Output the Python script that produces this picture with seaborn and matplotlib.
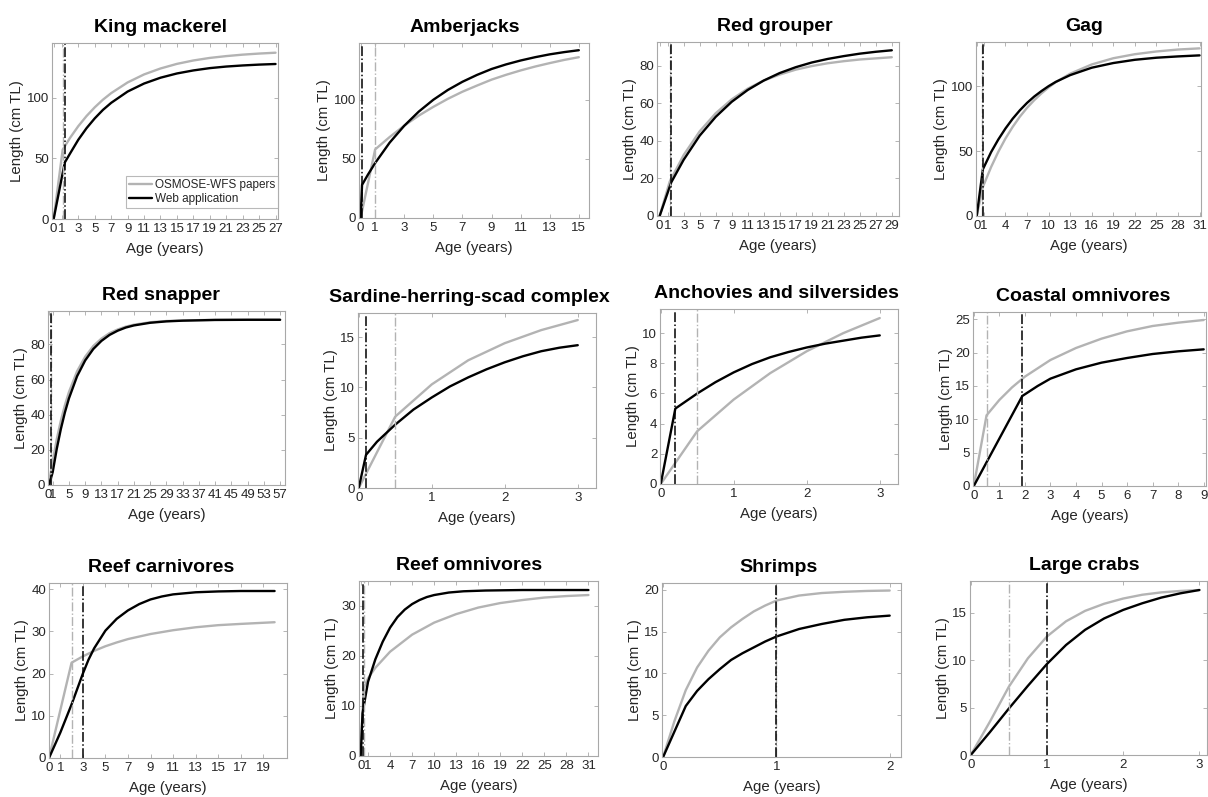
import matplotlib
matplotlib.use("Agg")
import matplotlib.pyplot as plt
import pandas as pd
import seaborn as sns

# ---------------- growth curves (age in years, length in cm TL) ----------------
# King mackerel
km_age_paper = [0, 1.1, 2, 3, 4, 5, 6, 7, 9, 11, 13, 15, 17, 19, 21, 23, 25, 27]
km_len_paper = [0, 57.1, 66.9, 76.5, 84.8, 92.0, 98.3, 103.7, 112.5, 119.1, 124.0, 127.8, 130.6, 132.7, 134.2, 135.4, 136.3, 137.0]
km_age_web = [0, 1.35, 2, 3, 4, 5, 6, 7, 9, 11, 13, 15, 17, 19, 21, 23, 25, 27]
km_len_web = [0, 46.5, 54.0, 65.3, 74.8, 82.9, 89.9, 95.7, 105.0, 111.6, 116.4, 119.9, 122.4, 124.3, 125.6, 126.5, 127.2, 127.7]
km_thr = (1.1, 1.35)

# Amberjacks
amb_age_paper = [0, 1, 2, 3, 4, 5, 6, 7, 8, 9, 10, 11, 12, 13, 14, 15]
amb_len_paper = [0, 58.0, 68.5, 78.1, 86.6, 94.0, 100.8, 106.8, 112.0, 117.0, 121.1, 124.8, 128.1, 131.0, 133.7, 136.0]
amb_age_web = [0, 0.1, 0.5, 1, 2, 3, 4, 5, 6, 7, 8, 9, 10, 11, 12, 13, 14, 15]
amb_len_web = [0, 28.0, 36.6, 46.5, 63.8, 78.0, 90.0, 100.0, 108.3, 115.2, 121.0, 126.0, 129.9, 133.2, 136.0, 138.4, 140.3, 141.9]
amb_thr = (1.0, 0.1)

# Red grouper
rg_age_paper = [0, 1.25, 3, 5, 7, 9, 11, 13, 15, 17, 19, 21, 23, 25, 27, 29]
rg_len_paper = [0, 18.2, 32.4, 45.0, 54.6, 62.0, 67.7, 72.0, 75.2, 77.8, 79.7, 81.2, 82.3, 83.2, 83.8, 84.4]
rg_age_web = [0, 1.45, 3, 5, 7, 9, 11, 13, 15, 17, 19, 21, 23, 25, 27, 29]
rg_len_web = [0, 17.9, 29.9, 42.7, 52.7, 60.7, 67.0, 72.0, 76.0, 79.1, 81.6, 83.5, 85.0, 86.3, 87.3, 88.1]
rg_thr = (1.25, 1.45)

# Gag
gag_age_paper = [0, 0.85, 2, 3, 4, 5, 6, 7, 8, 9, 10, 11, 13, 16, 19, 22, 25, 28, 31]
gag_len_paper = [0, 22.3, 37.7, 49.4, 59.7, 68.6, 76.5, 83.3, 89.2, 94.4, 99.0, 103.1, 109.6, 116.7, 121.5, 124.6, 126.7, 128.2, 129.1]
gag_age_web = [0, 0.85, 2, 3, 4, 5, 6, 7, 8, 9, 10, 11, 13, 16, 19, 22, 25, 28, 31]
gag_len_web = [0, 35.9, 49.2, 58.9, 67.4, 74.9, 81.4, 87.1, 92.0, 96.2, 100.0, 103.3, 108.5, 114.2, 117.8, 120.3, 121.9, 122.9, 123.7]
gag_thr = (0.8, 0.85)

# Red snapper
rs_age_paper = [0, 0.5, 1, 2, 3, 4, 5, 7, 9, 11, 13, 15, 17, 19, 21, 25, 29, 33, 41, 49, 57]
rs_len_paper = [0, 6.7, 13.6, 26.1, 36.6, 45.4, 52.9, 64.7, 73.0, 79.1, 83.3, 86.4, 88.5, 90.1, 91.2, 92.6, 93.3, 93.6, 94.0, 94.0, 94.0]
rs_age_web = [0, 0.6, 1, 2, 3, 4, 5, 7, 9, 11, 13, 15, 17, 19, 21, 25, 29, 33, 41, 49, 57]
rs_len_web = [0, 4.0, 7.4, 20.6, 31.8, 41.3, 49.3, 61.9, 70.9, 77.4, 82.0, 85.4, 87.8, 89.6, 90.8, 92.3, 93.1, 93.5, 93.9, 94.0, 94.0]
rs_thr = (0.5, 0.6)

# Sardine-herring-scad complex
sar_age_paper = [0, 0.5, 1, 1.5, 2, 2.5, 3]
sar_len_paper = [0, 7.1, 10.3, 12.7, 14.4, 15.7, 16.7]
sar_age_web = [0, 0.1, 0.25, 0.5, 0.75, 1, 1.25, 1.5, 1.75, 2, 2.25, 2.5, 2.75, 3]
sar_len_web = [0, 3.3, 4.6, 6.3, 7.8, 9.0, 10.1, 11.0, 11.8, 12.5, 13.1, 13.6, 13.95, 14.2]
sar_thr = (0.5, 0.1)

# Anchovies and silversides
anc_age_paper = [0, 0.5, 1, 1.5, 2, 2.5, 3]
anc_len_paper = [0, 3.5, 5.6, 7.35, 8.8, 10.0, 11.0]
anc_age_web = [0, 0.2, 0.5, 0.75, 1, 1.25, 1.5, 1.75, 2, 2.25, 2.5, 2.75, 3]
anc_len_web = [0, 5.0, 6.0, 6.75, 7.4, 7.95, 8.4, 8.75, 9.05, 9.3, 9.5, 9.7, 9.85]
anc_thr = (0.5, 0.2)

# Coastal omnivores
co_age_paper = [0, 0.5, 1, 1.5, 2, 3, 4, 5, 6, 7, 8, 9]
co_len_paper = [0, 10.6, 12.9, 14.8, 16.4, 18.9, 20.7, 22.1, 23.2, 24.0, 24.5, 24.9]
co_age_web = [0, 1.9, 2.5, 3, 4, 5, 6, 7, 8, 9]
co_len_web = [0, 13.5, 15.0, 16.1, 17.5, 18.5, 19.2, 19.8, 20.2, 20.5]
co_thr = (0.5, 1.9)

# Reef carnivores
rc_age_paper = [0, 2, 3, 4, 5, 6, 7, 9, 11, 13, 15, 17, 20]
rc_len_paper = [0, 22.6, 24.1, 25.4, 26.5, 27.4, 28.2, 29.4, 30.3, 31.0, 31.5, 31.8, 32.2]
rc_age_web = [0, 1, 2, 3, 3.5, 4, 5, 6, 7, 8, 9, 10, 11, 13, 15, 17, 20]
rc_len_web = [0, 6.0, 12.7, 20.0, 23.3, 26.0, 30.2, 33.0, 35.0, 36.5, 37.6, 38.3, 38.8, 39.3, 39.5, 39.6, 39.6]
rc_thr = (2.0, 3.0)

# Reef omnivores
ro_age_paper = [0, 0.4, 1, 2, 4, 7, 10, 13, 16, 19, 22, 25, 28, 31]
ro_len_paper = [0, 13.5, 15.5, 17.6, 20.8, 24.2, 26.6, 28.3, 29.6, 30.5, 31.1, 31.6, 31.9, 32.1]
ro_age_web = [0, 0.25, 1, 2, 3, 4, 5, 6, 7, 8, 9, 10, 12, 14, 17, 22, 31]
ro_len_web = [0, 8.5, 14.8, 19.3, 22.8, 25.6, 27.7, 29.2, 30.3, 31.1, 31.7, 32.1, 32.6, 32.85, 33.0, 33.1, 33.1]
ro_thr = (0.4, 0.25)

# Shrimps
sh_age_paper = [0, 0.1, 0.2, 0.3, 0.4, 0.5, 0.6, 0.7, 0.8, 0.9, 1, 1.2, 1.4, 1.6, 1.8, 2]
sh_len_paper = [0, 4.3, 8.0, 10.7, 12.7, 14.3, 15.5, 16.5, 17.4, 18.1, 18.7, 19.3, 19.6, 19.75, 19.85, 19.9]
sh_age_web = [0, 0.2, 0.3, 0.4, 0.5, 0.6, 0.7, 0.8, 0.9, 1, 1.2, 1.4, 1.6, 1.8, 2]
sh_len_web = [0, 6.1, 7.9, 9.3, 10.5, 11.6, 12.4, 13.1, 13.8, 14.4, 15.3, 15.9, 16.4, 16.7, 16.9]
sh_thr = (1.0, 1.0)

# Large crabs
lc_age_paper = [0, 0.25, 0.5, 0.75, 1, 1.25, 1.5, 1.75, 2, 2.25, 2.5, 2.75, 3]
lc_len_paper = [0, 3.5, 7.2, 10.2, 12.5, 14.1, 15.2, 15.95, 16.5, 16.9, 17.15, 17.3, 17.4]
lc_age_web = [0, 0.25, 0.5, 0.75, 1, 1.25, 1.5, 1.75, 2, 2.25, 2.5, 2.75, 3]
lc_len_web = [0, 2.4, 4.9, 7.3, 9.6, 11.6, 13.2, 14.4, 15.3, 16.0, 16.6, 17.05, 17.4]
lc_thr = (0.5, 1.0)

SRC_PAPER = "OSMOSE-WFS papers"
SRC_WEB = "Web application"

# ---------------- panels: title, data, axis limits and ticks ----------------
panels = [
    ("King mackerel", km_age_paper, km_len_paper, km_age_web, km_len_web, km_thr,
     (-0.2, 27.3), (0, 145), [0, 1] + list(range(3, 28, 2)), [0, 50, 100]),
    ("Amberjacks", amb_age_paper, amb_len_paper, amb_age_web, amb_len_web, amb_thr,
     (-0.11, 15.7), (0, 148), [0, 1] + list(range(3, 16, 2)), [0, 50, 100]),
    ("Red grouper", rg_age_paper, rg_len_paper, rg_age_web, rg_len_web, rg_thr,
     (-0.33, 29.9), (0, 92.5), [0, 1] + list(range(3, 30, 2)), [0, 20, 40, 60, 80]),
    ("Gag", gag_age_paper, gag_len_paper, gag_age_web, gag_len_web, gag_thr,
     (-0.1, 31.2), (0, 134), [0, 1] + list(range(4, 32, 3)), [0, 50, 100]),
    ("Red snapper", rs_age_paper, rs_len_paper, rs_age_web, rs_len_web, rs_thr,
     (-0.16, 58.2), (0, 99), [0, 1] + list(range(5, 58, 4)), [0, 20, 40, 60, 80]),
    ("Sardine-herring-scad complex", sar_age_paper, sar_len_paper, sar_age_web, sar_len_web, sar_thr,
     (-0.01, 3.25), (0, 17.4), [0, 1, 2, 3], [0, 5, 10, 15]),
    ("Anchovies and silversides", anc_age_paper, anc_len_paper, anc_age_web, anc_len_web, anc_thr,
     (-0.01, 3.25), (0, 11.6), [0, 1, 2, 3], [0, 2, 4, 6, 8, 10]),
    ("Coastal omnivores", co_age_paper, co_len_paper, co_age_web, co_len_web, co_thr,
     (-0.03, 9.09), (0, 26.1), list(range(0, 10)), [0, 5, 10, 15, 20, 25]),
    ("Reef carnivores", rc_age_paper, rc_len_paper, rc_age_web, rc_len_web, rc_thr,
     (0, 21.1), (0, 41.5), [0, 1] + list(range(3, 20, 2)), [0, 10, 20, 30, 40]),
    ("Reef omnivores", ro_age_paper, ro_len_paper, ro_age_web, ro_len_web, ro_thr,
     (-0.23, 32.3), (0, 34.9), [0, 1] + list(range(4, 32, 3)), [0, 10, 20, 30]),
    ("Shrimps", sh_age_paper, sh_len_paper, sh_age_web, sh_len_web, sh_thr,
     (-0.01, 2.1), (0, 20.8), [0, 1, 2], [0, 5, 10, 15, 20]),
    ("Large crabs", lc_age_paper, lc_len_paper, lc_age_web, lc_len_web, lc_thr,
     (-0.01, 3.1), (0, 18.35), [0, 1, 2, 3], [0, 5, 10, 15]),
]

# axes boxes in pixels: left, top, right, bottom; and title shift (px, leftwards)
boxes = [
    (52, 43, 278, 219), (359, 43, 589, 218), (657, 42, 899, 216), (976, 42, 1201, 216),
    (48, 311, 285, 485), (358, 313, 596, 488), (660, 309, 898, 484), (973, 312, 1206, 486),
    (49, 583, 287, 758), (359, 581, 598, 756), (662, 583, 901, 757), (970, 581, 1207, 755),
]
title_shift = [5, 9, 3, 4, 6, 8, 2.5, 6, 7, 9.5, 3.5, 4]

W, H = 1208, 797
GREY = "#b3b3b3"
BLACK = "#000000"
EDGE = "#a8a8a8"
TXT = "#262626"

sns.set_theme(style="ticks")
plt.rcParams["font.family"] = ["Liberation Sans", "DejaVu Sans"]
plt.rcParams.update({
    "axes.edgecolor": EDGE,
    "axes.linewidth": 0.8,
    "xtick.color": EDGE,
    "ytick.color": EDGE,
    "xtick.labelcolor": TXT,
    "ytick.labelcolor": TXT,
    "xtick.direction": "in",
    "ytick.direction": "in",
    "xtick.top": True,
    "ytick.right": True,
    "xtick.major.size": 3,
    "ytick.major.size": 3,
    "xtick.major.width": 0.6,
    "ytick.major.width": 0.6,
    "xtick.major.pad": 3,
    "ytick.major.pad": 2,
    "xtick.labelsize": 9.5,
    "ytick.labelsize": 9.5,
})

fig = plt.figure(figsize=(W / 100, H / 100), dpi=100)

for i, (spec, box, dx) in enumerate(zip(panels, boxes, title_shift)):
    title, ap, lp, aw, lw_, thr, xlim, ylim, xt, yt = spec
    l, t, r, b = box
    ax = fig.add_axes([l / W, 1 - b / H, (r - l) / W, (b - t) / H])
    ax.set_facecolor("white")

    df = pd.concat([
        pd.DataFrame({"Age": ap, "Length": lp, "Source": SRC_PAPER}),
        pd.DataFrame({"Age": aw, "Length": lw_, "Source": SRC_WEB}),
    ], ignore_index=True)
    sns.lineplot(data=df, x="Age", y="Length", hue="Source",
                 hue_order=[SRC_PAPER, SRC_WEB],
                 palette={SRC_PAPER: GREY, SRC_WEB: BLACK},
                 estimator=None, sort=False, linewidth=1.7,
                 legend=(i == 0), ax=ax)

    # age at which growth switches to the von Bertalanffy curve
    ax.axvline(thr[0], color=GREY, linestyle="-.", linewidth=1.0)
    ax.axvline(thr[1], color=BLACK, linestyle="-.", linewidth=1.1)

    ax.set_xlim(*xlim)
    ax.set_ylim(*ylim)
    ax.set_xticks(xt)
    ax.set_yticks(yt)
    for s in ax.spines.values():
        s.set_visible(True)
    ax.set_title(title, fontsize=14, fontweight="bold", color="black", pad=8,
                 x=0.5 - dx / (r - l))
    ax.set_xlabel("Age (years)", fontsize=10.8, color=TXT, labelpad=5)
    ax.set_ylabel("Length (cm TL)", fontsize=10.8, color=TXT, labelpad=2)

    if i == 0:
        leg = ax.legend(loc="lower right", fontsize=8.5, frameon=True, fancybox=False,
                        edgecolor=EDGE, borderpad=0.25, handlelength=2.0,
                        handletextpad=0.2, labelspacing=0.2, borderaxespad=0.0,
                        bbox_to_anchor=(1.0, 0.0625), title=None)
        leg.get_frame().set_linewidth(0.8)

fig.savefig("out.png", dpi=100, facecolor="white")
